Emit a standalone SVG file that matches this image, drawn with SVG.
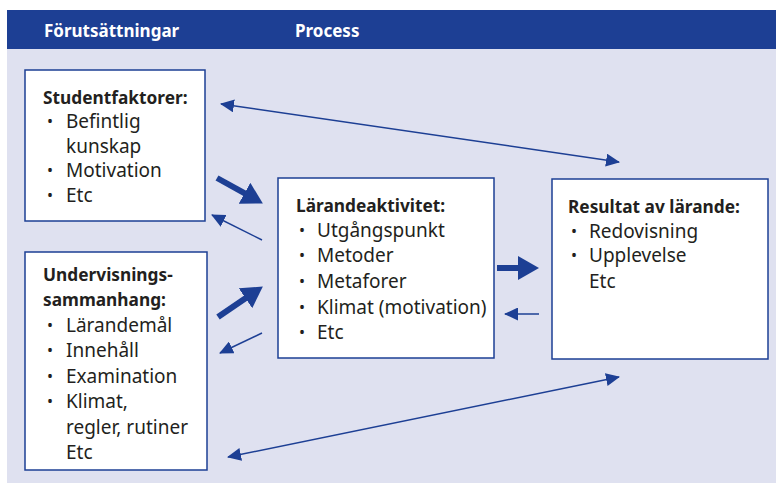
<svg xmlns="http://www.w3.org/2000/svg" width="776" height="483" viewBox="0 0 776 483">
<style>
.hdr{font-family:"Noto Sans","Open Sans",sans-serif;font-weight:bold;font-size:17px;fill:#fff}
.box{fill:#fff;stroke:#1d3f94;stroke-width:1.5}
.t{font-family:"Noto Sans","Open Sans",sans-serif;font-size:19px;fill:#231f20}
.b{font-weight:bold;font-size:17.3px}
.d{font-size:16px}
.thin{stroke:#1d3f94;stroke-width:1.5;fill:none}
.thick{stroke:#1d3f94;stroke-width:6;fill:none}
</style>
<defs>
<marker id="hs" markerUnits="userSpaceOnUse" markerWidth="15" markerHeight="13" refX="13" refY="6.5" orient="auto-start-reverse"><path d="M0,0 L14,6.5 L0,13 z" fill="#1d3f94"/></marker>
<marker id="hl" markerUnits="userSpaceOnUse" markerWidth="22" markerHeight="24" refX="4" refY="12" orient="auto"><path d="M0,0 L21,12 L0,24 z" fill="#1d3f94"/></marker>
</defs>
<rect x="0" y="0" width="776" height="483" fill="#fff"/>
<rect x="7" y="49" width="769" height="434" fill="#dfe1f0"/>
<rect x="7" y="10" width="769" height="39" fill="#1d3f94"/>
<text class="hdr" x="44" y="37">Förutsättningar</text>
<text class="hdr" x="295" y="37">Process</text>

<g id="studentfaktorer">
<rect class="box" x="25" y="70" width="180" height="151"/>
<text class="t b" x="43" y="104">Studentfaktorer:</text>
<text class="t d" x="47" y="127">•</text><text class="t" x="66" y="128">Befintlig</text>
<text class="t" x="66" y="153">kunskap</text>
<text class="t d" x="47" y="176">•</text><text class="t" x="66" y="177">Motivation</text>
<text class="t d" x="47" y="201">•</text><text class="t" x="66" y="202">Etc</text>
</g>

<g id="undervisning">
<rect class="box" x="25" y="252" width="182" height="218"/>
<text class="t b" x="43" y="281">Undervisnings-</text>
<text class="t b" x="43" y="306">sammanhang:</text>
<text class="t d" x="47" y="331">•</text><text class="t" x="66" y="332">Lärandemål</text>
<text class="t d" x="47" y="356">•</text><text class="t" x="66" y="357">Innehåll</text>
<text class="t d" x="47" y="382">•</text><text class="t" x="66" y="383">Examination</text>
<text class="t d" x="47" y="407">•</text><text class="t" x="66" y="408">Klimat,</text>
<text class="t" x="66" y="434">regler, rutiner</text>
<text class="t" x="66" y="459">Etc</text>
</g>

<g id="larandeaktivitet">
<rect class="box" x="278" y="178" width="216" height="180"/>
<text class="t b" x="296" y="212">Lärandeaktivitet:</text>
<text class="t d" x="299" y="236">•</text><text class="t" x="317" y="237">Utgångspunkt</text>
<text class="t d" x="299" y="261">•</text><text class="t" x="317" y="262">Metoder</text>
<text class="t d" x="299" y="287">•</text><text class="t" x="317" y="288">Metaforer</text>
<text class="t d" x="299" y="313">•</text><text class="t" x="317" y="314">Klimat (motivation)</text>
<text class="t d" x="299" y="338">•</text><text class="t" x="317" y="339">Etc</text>
</g>

<g id="resultat">
<rect class="box" x="552" y="179" width="216" height="180"/>
<text class="t b" x="568" y="213">Resultat av lärande:</text>
<text class="t d" x="571" y="237">•</text><text class="t" x="589" y="238">Redovisning</text>
<text class="t d" x="571" y="261">•</text><text class="t" x="589" y="262">Upplevelse</text>
<text class="t" x="589" y="288">Etc</text>
</g>

<g id="connectors">
<line class="thin" x1="221" y1="104" x2="619" y2="162" marker-start="url(#hs)" marker-end="url(#hs)"/>
<line class="thin" x1="228" y1="457" x2="619" y2="377" marker-start="url(#hs)" marker-end="url(#hs)"/>
<line class="thick" x1="217" y1="178" x2="248" y2="195.2" marker-end="url(#hl)"/>
<line class="thick" x1="218" y1="317" x2="248.8" y2="296" marker-end="url(#hl)"/>
<line class="thick" x1="497" y1="268" x2="522" y2="268" marker-end="url(#hl)"/>
<line class="thin" x1="262" y1="240" x2="212" y2="215" marker-end="url(#hs)"/>
<line class="thin" x1="262" y1="333" x2="220" y2="353" marker-end="url(#hs)"/>
<line class="thin" x1="539" y1="314" x2="505" y2="314" marker-end="url(#hs)"/>
</g>
</svg>
